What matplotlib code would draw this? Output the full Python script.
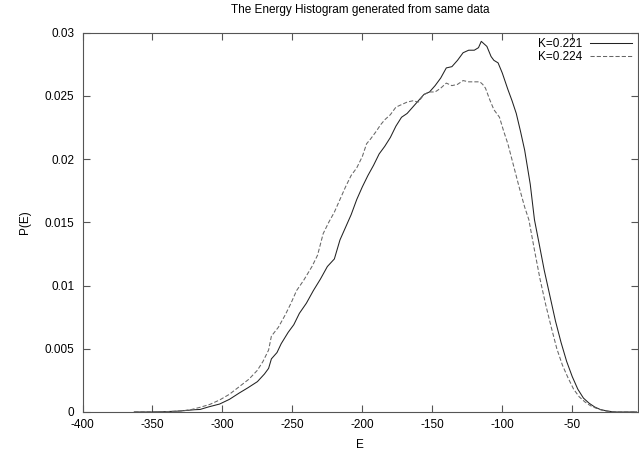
import matplotlib
matplotlib.use("Agg")
import matplotlib.pyplot as plt

plt.rcParams['font.family'] = ['Liberation Sans', 'DejaVu Sans']

# K=0.221 (solid)
E1 = [-363, -350, -340, -330, -320, -316, -310, -302, -295, -288, -282, -275, -270, -267,
      -265, -261, -258, -253, -249, -245, -240, -235, -230, -225, -220, -216, -212, -208,
      -204, -200, -196, -192, -188, -184, -180, -176, -172, -168, -164, -160, -156, -152,
      -148, -144, -140, -136, -132, -128, -124, -120, -117, -115, -113, -111, -108, -106,
      -103, -100, -96, -93, -90, -87, -84, -80, -77, -74, -70, -66, -62, -58, -54, -50,
      -46, -42, -38, -34, -30, -26, -22, -18, -4]
P1 = [0, 0, 0.00003, 0.00008, 0.00018, 0.0002, 0.0004, 0.00063, 0.001, 0.0015, 0.0019,
      0.0024, 0.003, 0.00345, 0.0042, 0.0047, 0.0054, 0.0063, 0.0069, 0.0078, 0.0086,
      0.0096, 0.0105, 0.0115, 0.0121, 0.0136, 0.0146, 0.0156, 0.0168, 0.0178, 0.0187,
      0.0195, 0.0204, 0.021, 0.0217, 0.0226, 0.0233, 0.0236, 0.0241, 0.0246, 0.0251,
      0.0253, 0.0258, 0.0264, 0.0272, 0.0273, 0.0278, 0.0284, 0.0286, 0.0286, 0.0288,
      0.0293, 0.0291, 0.0289, 0.0281, 0.0278, 0.0276, 0.0268, 0.0255, 0.0246, 0.0236,
      0.0222, 0.0207, 0.018, 0.0152, 0.0135, 0.0112, 0.0092, 0.0072, 0.0055, 0.004,
      0.0028, 0.0018, 0.0011, 0.0007, 0.0004, 0.0002, 0.0001, 0.00003, 0, 0]

# K=0.224 (dashed)
E2 = [-363, -345, -335, -328, -322, -316, -309, -302, -295, -288, -281, -275, -271, -267,
      -265, -260, -255, -251, -247, -242, -236, -232, -228, -224, -220, -216, -212, -208,
      -204, -200, -197, -194, -190, -187, -184, -180, -176, -172, -168, -164, -160, -156,
      -152, -148, -144, -140, -136, -132, -128, -124, -120, -116, -114, -112, -109, -106,
      -102, -99, -96, -92, -88, -84, -81, -77, -73, -69, -65, -61, -57, -53, -49, -45,
      -41, -37, -33, -29, -25, -20, -16, -4]
P2 = [0, 0.00002, 0.00005, 0.0001, 0.0002, 0.00037, 0.0006, 0.00095, 0.0014, 0.002, 0.0026,
      0.0033, 0.004, 0.0049, 0.006, 0.0067, 0.0077, 0.0086, 0.0096, 0.0104, 0.0115,
      0.0124, 0.0141, 0.015, 0.0158, 0.0168, 0.0178, 0.0187, 0.0193, 0.0202, 0.0212,
      0.0216, 0.0222, 0.0227, 0.0231, 0.0235, 0.0241, 0.0243, 0.0245, 0.0246, 0.0245,
      0.0251, 0.0253, 0.0253, 0.0256, 0.026, 0.0258, 0.0259, 0.0262, 0.0261, 0.0261,
      0.0261, 0.0259, 0.0256, 0.0247, 0.0239, 0.0233, 0.0222, 0.0212, 0.0195, 0.0178,
      0.0162, 0.0152, 0.0128, 0.0105, 0.0085, 0.0067, 0.005, 0.0037, 0.0027, 0.0018,
      0.0012, 0.0008, 0.0005, 0.0003, 0.00015, 0.00006, 0.00001, 0, 0]

labels = ["K=0.221", "K=0.224"]
xticks = [-400, -350, -300, -250, -200, -150, -100, -50]
yticks = [0, 0.005, 0.01, 0.015, 0.02, 0.025, 0.03]
ytick_labels = ["0", "0.005", "0.01", "0.015", "0.02", "0.025", "0.03"]

fig = plt.figure(figsize=(6.39, 4.50), dpi=100)
ax = fig.add_axes([82.5 / 639, 1 - 412 / 450, (638 - 82.5) / 639, (412 - 32.5) / 450])

ax.plot(E1, P1, color='#222222', lw=0.75, label=labels[0])
ax.plot(E2, P2, color='#666666', lw=0.75, linestyle=(0, (4, 2)), label=labels[1])

ax.set_xlim(-400, -3)
ax.set_ylim(0, 0.03)
ax.set_xticks(xticks)
ax.set_xticklabels([str(t) for t in xticks])
ax.set_yticks(yticks)
ax.set_yticklabels(ytick_labels)
ax.tick_params(direction='in', length=5, width=0.8, color='#555555',
               top=True, right=True, labelsize=8.5, pad=5)
ax.tick_params(axis='y', pad=6)
for s in ax.spines.values():
    s.set_color('#555555')
    s.set_linewidth(0.8)

ax.set_xlabel("E", fontsize=8.5, labelpad=6)
ax.set_ylabel("P(E)", fontsize=8.5, labelpad=10)
fig.text(360 / 639, 1 - 10 / 450, "The Energy Histogram generated from same data",
         ha='center', va='center', fontsize=8.5)

leg = ax.legend(loc='upper right', frameon=False, markerfirst=False, fontsize=8.5,
                handlelength=3.6, handletextpad=0.6, labelspacing=0.05,
                borderaxespad=0.3, borderpad=0.2)

fig.savefig("out.png", dpi=100)
